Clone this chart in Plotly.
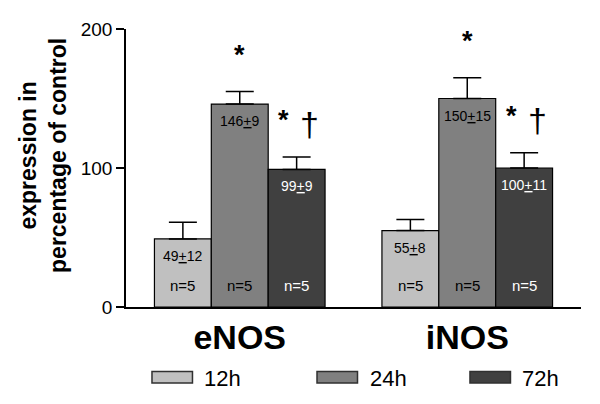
import plotly.graph_objects as go

# ---- data ----
genes = ["eNOS", "iNOS"]
times = ["12h", "24h", "72h"]
mean_12h = [49, 55]
sem_12h = [12, 8]
mean_24h = [146, 150]
sem_24h = [9, 15]
mean_72h = [99, 100]
sem_72h = [9, 11]
n_12h = [5, 5]
n_24h = [5, 5]
n_72h = [5, 5]
star = {"12h": ["", ""], "24h": ["*", "*"], "72h": ["*", "*"]}
dagger = {"12h": ["", ""], "24h": ["", ""], "72h": ["†", "†"]}

means = [mean_12h, mean_24h, mean_72h]
sems = [sem_12h, sem_24h, sem_72h]
ns = [n_12h, n_24h, n_72h]
fills = ["#c0c0c0", "#808080", "#404040"]
label_colors = ["black", "black", "white"]

FONT = "Liberation Sans, Arial, sans-serif"
BAR_W = 0.25

fig = go.Figure()
annotations = []
for i, t in enumerate(times):
    xs = [g + (i - 1) * BAR_W for g in range(len(genes))]
    fig.add_trace(go.Bar(
        x=xs, y=means[i], width=BAR_W, name=t,
        marker=dict(color=fills[i], line=dict(color="black", width=1.2)),
        error_y=dict(type="data", array=sems[i], arrayminus=[0] * len(genes),
                     symmetric=False, color="black", thickness=1.5, width=14),
        showlegend=False,
    ))
    for k in range(len(genes)):
        annotations.append(dict(
            x=xs[k], y=means[i][k], xref="x", yref="y",
            text=f"{means[i][k]}<u>+</u>{sems[i][k]}", showarrow=False,
            yshift=-17, font=dict(family=FONT, size=14, color=label_colors[i])))
        annotations.append(dict(
            x=xs[k], y=0, xref="x", yref="y",
            text=f"n={ns[i][k]}", showarrow=False,
            yshift=22, font=dict(family=FONT, size=15, color=label_colors[i])))
        top = means[i][k] + sems[i][k]
        if star[t][k]:
            annotations.append(dict(
                x=xs[k], y=top, xref="x", yref="y", text=f"<b>{star[t][k]}</b>",
                showarrow=False, yshift=37,
                xshift=(-13 if dagger[t][k] else 0),
                font=dict(family=FONT, size=27, color="black")))
        if dagger[t][k]:
            annotations.append(dict(
                x=xs[k], y=top, xref="x", yref="y", text=dagger[t][k],
                showarrow=False, yshift=33, xshift=13,
                font=dict(family=FONT, size=34, color="black")))

# y-axis title
annotations.append(dict(
    x=-0.182, y=0.544, xref="paper", yref="paper",
    text="<b>expression in<br>percentage of control</b>", textangle=-90,
    showarrow=False, xanchor="center", yanchor="middle",
    font=dict(family=FONT, size=23, color="black")))

# manual legend
shapes = []
leg_x0 = [0.0571, 0.4198, 0.756]
for i, t in enumerate(times):
    shapes.append(dict(type="rect", xref="paper", yref="paper",
                       x0=leg_x0[i], x1=leg_x0[i] + 0.089,
                       y0=-0.2737, y1=-0.2316,
                       fillcolor=fills[i], line=dict(color="#303030", width=1.5)))
    annotations.append(dict(x=leg_x0[i] + 0.111, y=-0.256, xref="paper", yref="paper",
                            text=t, showarrow=False, xanchor="left", yanchor="middle",
                            font=dict(family=FONT, size=22, color="black")))

# page body has an 8px margin, so the figure is sized to fit the 600x404 window
fig.update_layout(
    width=584, height=388,
    margin=dict(l=118, r=11, t=14, b=89),
    paper_bgcolor="white", plot_bgcolor="white",
    barmode="overlay",
    showlegend=False,
    annotations=annotations,
    shapes=shapes,
    xaxis=dict(range=[-0.5, 1.5], tickvals=list(range(len(genes))),
               ticktext=[f"<b>{g}</b>" for g in genes],
               showline=True, linecolor="black", linewidth=1.5,
               ticks="", showgrid=False, zeroline=False,
               tickfont=dict(family=FONT, size=34, color="black"),
               ticklabelstandoff=-1),
    yaxis=dict(range=[0, 200], tickvals=[0, 100, 200],
               showline=True, linecolor="black", linewidth=1.5,
               ticks="outside", ticklen=8, tickwidth=1.5, tickcolor="black",
               showgrid=False, zeroline=False,
               tickfont=dict(family=FONT, size=19, color="black")),
)

fig.write_html("out.html")
